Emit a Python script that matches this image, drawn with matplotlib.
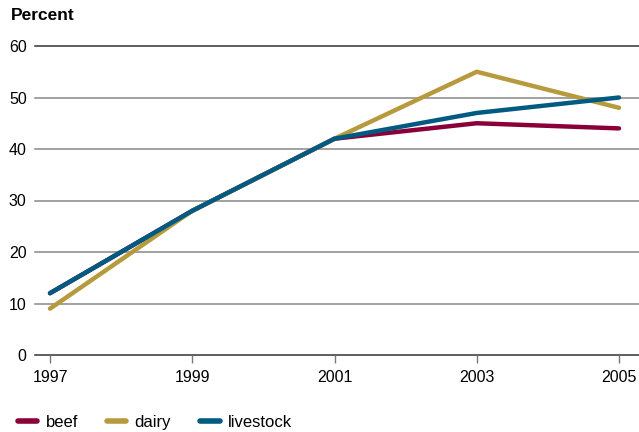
import matplotlib.pyplot as plt
from matplotlib.lines import Line2D

plt.rcParams['font.family'] = ['Liberation Sans', 'DejaVu Sans']

# data
years = [1997, 1999, 2001, 2003, 2005]
beef = [12, 28, 42, 45, 44]
dairy = [9, 28, 42, 55, 48]
livestock = [12, 28, 42, 47, 50]
yticks = [0, 10, 20, 30, 40, 50, 60]

c_beef = '#8a0038'
c_dairy = '#b89a3e'
c_live = '#005a82'

fig = plt.figure(figsize=(6.39, 4.32), dpi=100)
ax = fig.add_axes([35 / 639, 77 / 432, 604 / 639, 309 / 432])

# gridlines
for v in yticks:
    col = '#333333' if v in (0, 60) else '#888888'
    ax.axhline(v, color=col, lw=1.1, zorder=1, clip_on=False)

ax.plot(years, beef, color=c_beef, lw=3.2, solid_capstyle='round', zorder=3, clip_on=False)
ax.plot(years, dairy, color=c_dairy, lw=3.2, solid_capstyle='round', zorder=4, clip_on=False)
ax.plot(years, livestock, color=c_live, lw=3.2, solid_capstyle='round', zorder=5, clip_on=False)

ax.set_xlim(1997 - 15 / 71.125, 2005 + 20 / 71.125)
ax.set_ylim(0, 60)
ax.set_xticks(years)
ax.set_yticks(yticks)
ax.tick_params(axis='x', length=6, width=1, color='#777777', labelsize=11.5, pad=5, direction='out')
ax.tick_params(axis='y', length=0, labelsize=11.5, pad=6)
for s in ax.spines.values():
    s.set_visible(False)

fig.text(11 / 639, 1 - 16 / 432, 'Percent', fontsize=12.5, fontweight='bold', va='center', ha='left')

handles = [Line2D([], [], color=c, lw=4, solid_capstyle='round') for c in (c_beef, c_dairy, c_live)]
fig.legend(handles, ['beef', 'dairy', 'livestock'], ncol=3, loc='lower left',
           bbox_to_anchor=(0.005, -0.03), frameon=False, fontsize=12,
           handlelength=1.15, handletextpad=0.5, columnspacing=1.75)

fig.savefig('out.png', dpi=100)
